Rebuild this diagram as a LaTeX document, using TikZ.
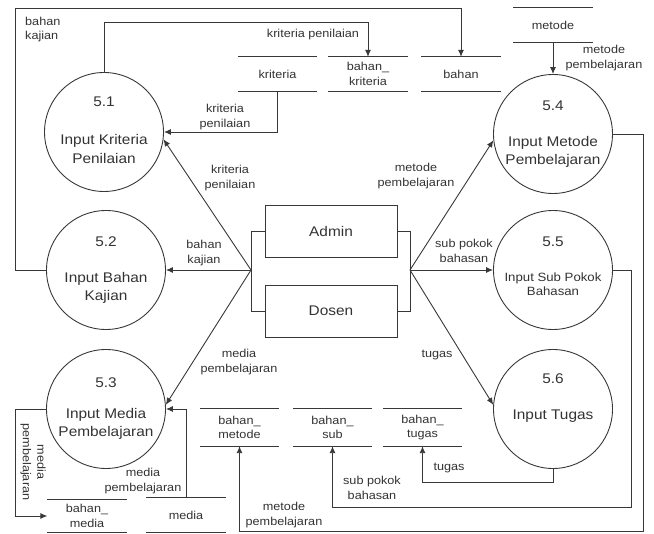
\documentclass[tikz,border=0pt]{standalone}
\usepackage{fontspec}
\setmainfont{Liberation Sans}[FakeStretch=1.1]
\usetikzlibrary{arrows.meta}
\definecolor{ink}{gray}{0.22}
\definecolor{txt}{gray}{0.2}
\begin{document}
\begin{tikzpicture}[x=1pt,y=-1pt,
  line/.style={draw=ink, line width=0.9pt},
  flow/.style={line, -{Latex[length=7pt,width=6pt]}},
  proc/.style={circle, draw=ink, line width=0.9pt, minimum size=119pt, inner sep=0pt},
  ptext/.style={align=center, inner sep=0pt, font=\fontsize{14}{18}\selectfont, text=txt},
  ent/.style={draw=ink, line width=0.9pt, minimum width=132pt, minimum height=52pt, inner sep=0pt, font=\fontsize{14}{17}\selectfont, text=txt},
  store/.style={minimum width=79pt, minimum height=34pt, inner sep=0pt, align=center, font=\fontsize{11.5}{14.5}\selectfont, text=txt},
  lbl/.style={align=center, inner sep=0pt, font=\fontsize{11.5}{14.5}\selectfont, text=txt}
]
\useasboundingbox (0,0) rectangle (654,534);

% processes
\node[proc] (c51) at (104,132) {};
\node[proc] (c52) at (106,270) {};
\node[proc] (c53) at (106,409) {};
\node[proc] (c54) at (553,134) {};
\node[proc] (c55) at (553,270) {};
\node[proc] (c56) at (553,409) {};
\node[ptext] (n51) at (104,102) {5.1};
\node[ptext] (t51) at (104,149) {Input Kriteria\\Penilaian};
\node[ptext] (n52) at (106,242) {5.2};
\node[ptext] (t52) at (106,287.5) {Input Bahan\\Kajian};
\node[ptext] (n53) at (106,383) {5.3};
\node[ptext] (t53) at (106,424) {Input Media\\Pembelajaran};
\node[ptext] (n54) at (553,106) {5.4};
\node[ptext] (t54) at (553,152) {Input Metode\\Pembelajaran};
\node[ptext] (n55) at (553,242) {5.5};
\node[ptext, font=\fontsize{12}{14}\selectfont] (t55) at (553,284) {Input Sub Pokok\\Bahasan};
\node[ptext] (n56) at (553,379) {5.6};
\node[ptext] (t56) at (553,416) {Input Tugas};

% entities
\node[ent] (admin) at (331,231) {Admin};
\node[ent] (dosen) at (331,311) {Dosen};

% data stores
\node[store] (kri) at (277.5,74) {kriteria};
\node[store] (bkri) at (368,74) {bahan\_\\kriteria};
\node[store] (bhn) at (461,74) {bahan};
\node[store] (met) at (553,25) {metode};
\node[store, minimum height=37pt] (bmet) at (239.5,427.5) {bahan\_\\metode};
\node[store, minimum height=37pt] (bsub) at (332.5,427.5) {bahan\_\\sub};
\node[store, minimum height=37pt] (btug) at (422.5,427.5) {bahan\_\\tugas};
\node[store, minimum height=33pt] (bmed) at (87,516) {bahan\_\\media};
\node[store, minimum height=34pt] (med) at (186,515) {media};
\foreach \s in {kri,bkri,bhn,met,bmet,bsub,btug,bmed,med}
  \draw[line] (\s.north west) -- (\s.north east) (\s.south west) -- (\s.south east);

% brackets and junctions
\coordinate (JL) at (251,270);
\coordinate (JR) at (410,270);
\draw[line] (admin.west) -- (251,231) -- (251,311) -- (dosen.west);
\draw[line] (admin.east) -- (410,231) -- (410,311) -- (dosen.east);
\draw[flow] (JL) -- (c51.-7);
\draw[flow] (JL) -- (c52.east);
\draw[flow] (JL) -- (c53.4);
\draw[flow] (JR) -- (c54.186);
\draw[flow] (JR) -- (c55.west);
\draw[flow] (JR) -- (c56.176);

% other flows
\draw[flow] (c51.north) -- (104,22) -| (bkri.north);
\draw[flow] (c52.west) -- (15,270) -- (15,8) -| (bhn.north);
\draw[flow] (kri.south) |- (c51.east);
\draw[flow] (met.south) -- (c54.north);
\draw[flow] (c54.east) -- (643,134) -- (643,531) -| (bmet.south);
\draw[flow] (c55.east) -- (631,270) -- (631,507) -| (bsub.south);
\draw[flow] (c56.south) -- (553,482) -| (btug.south);
\draw[flow] (med.north) |- (c53.east);
\draw[flow] (c53.west) -- (15,409) |- (bmed.west);

% labels
\node[lbl] (l1) at (313,35) {kriteria penilaian};
\node[lbl, align=left, anchor=west] (l2) at (25,29.5) {bahan\\kajian};
\node[lbl] (l3) at (225,117) {kriteria\\penilaian};
\node[lbl] (l4) at (230,178) {kriteria\\penilaian};
\node[lbl] (l5) at (204,253) {bahan\\kajian};
\node[lbl] (l6) at (239,362) {media\\pembelajaran};
\node[lbl] (l7) at (416,176) {metode\\pembelajaran};
\node[lbl] (l8) at (464,251) {sub pokok\\bahasan};
\node[lbl] (l9) at (437,355) {tugas};
\node[lbl] (l10) at (604,58) {metode\\pembelajaran};
\node[lbl] (l11) at (284,515) {metode\\pembelajaran};
\node[lbl] (l12) at (372,488) {sub pokok\\bahasan};
\node[lbl] (l13) at (449,468) {tugas};
\node[lbl] (l14) at (143,481) {media\\pembelajaran};
\node[lbl, rotate=-90] (l15) at (33,462) {media\\pembelajaran};
\end{tikzpicture}
\end{document}
